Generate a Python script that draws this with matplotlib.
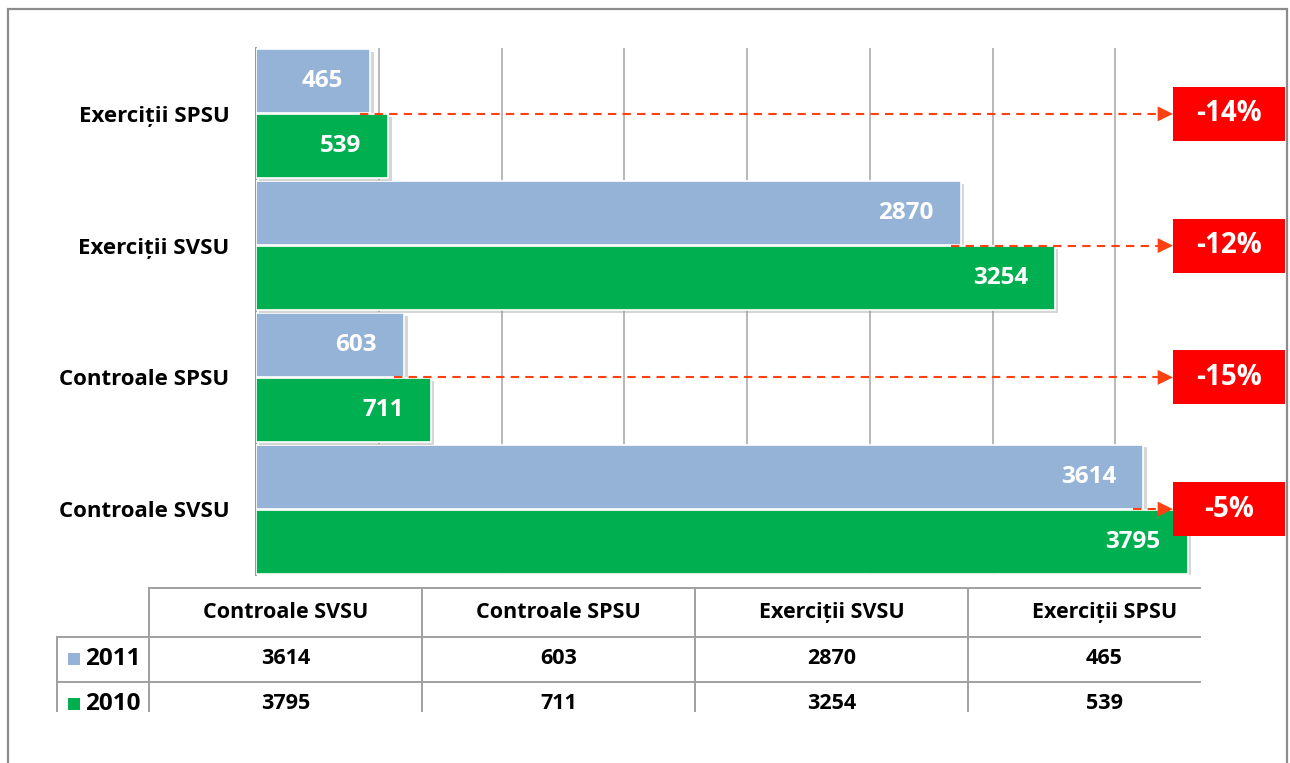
"""Horizontal grouped bars 2011 vs 2010 with data table and change boxes."""

import matplotlib
matplotlib.use("Agg")
import matplotlib.pyplot as plt
import matplotlib.patheffects as pe
from matplotlib.patches import Rectangle

# ── Data ────────────────────────────────────────────────────────────────
categories = ["Controale SVSU", "Controale SPSU", "Exerciții SVSU", "Exerciții SPSU"]
years = ["2011", "2010"]
values_2011 = [3614, 603, 2870, 465]
values_2010 = [3795, 711, 3254, 539]

# ── Style ───────────────────────────────────────────────────────────────
C_2011 = "#95B3D7"
C_2010 = "#00B050"
C_BOX = "#FF0000"
C_ARROW = "#FF4010"
C_GRID = "#ABABAB"
FONT = ["Open Sans", "DejaVu Sans"]
FS = 15.5

W, H = 1290, 763
plt.rcParams["font.family"] = FONT

fig = plt.figure(figsize=(W / 100, H / 100), dpi=100)


def px_rect(x0, y0, x1, y1):
    """Pixel box (top-left origin) -> figure fraction [l, b, w, h]."""
    return [x0 / W, 1 - y1 / H, (x1 - x0) / W, (y1 - y0) / H]


# outer frame (open at the bottom)
frame = fig.add_axes([0, 0, 1, 1])
frame.set_xlim(0, W)
frame.set_ylim(H, 0)
frame.axis("off")
frame.plot([8, 8, 1287, 1287], [H + 5, 9, 9, H + 5], color="#8C8C8C", lw=1.6,
           solid_joinstyle="miter")

# ── Bar chart ───────────────────────────────────────────────────────────
ax = fig.add_axes(px_rect(256, 48, 1238, 575))
ax.set_xlim(0, 4000)
ax.set_ylim(-0.5, len(categories) - 0.5)

bar_h = 0.485
off = 0.247
shadow = [pe.SimplePatchShadow(offset=(2.5, -2), shadow_rgbFace="0.55", alpha=0.35),
          pe.Normal()]
ys = list(range(len(categories)))
b11 = ax.barh([y + off for y in ys], values_2011, height=bar_h, color=C_2011,
              edgecolor="white", linewidth=1.2, zorder=3)
b10 = ax.barh([y - off for y in ys], values_2010, height=bar_h, color=C_2010,
              edgecolor="white", linewidth=1.2, zorder=3)
for b in list(b11) + list(b10):
    b.set_path_effects(shadow)

for bars, vals in ((b11, values_2011), (b10, values_2010)):
    for b, v in zip(bars, vals):
        ax.annotate(f"{v}", xy=(v, b.get_y() + b.get_height() / 2),
                    xytext=(-27, 0), textcoords="offset pixels",
                    ha="right", va="center", color="white",
                    fontsize=17.5, fontweight="bold", zorder=5)

ax.set_yticks(ys)
ax.set_yticklabels(categories, fontsize=16, fontweight="bold")
ax.tick_params(axis="y", length=0, pad=19)
ax.set_xticks(range(500, 4000, 500))
ax.tick_params(axis="x", length=0, labelbottom=False)
ax.grid(axis="x", color=C_GRID, lw=1.2)
ax.set_axisbelow(True)
for s in ("top", "right", "bottom"):
    ax.spines[s].set_visible(False)
ax.spines["left"].set_color("#8C8C8C")
ax.spines["left"].set_linewidth(1.3)

# change arrows and red boxes
arrow_end = 3735
box_w = 456
box_h = 0.41
for y, v11, v10 in zip(ys, values_2011, values_2010):
    pct = round((v11 - v10) / v10 * 100)
    ax.plot([v11 - 40, arrow_end - 30], [y, y], color=C_ARROW, lw=1.5,
            linestyle=(0, (4, 3)), zorder=4)
    ax.annotate("", xy=(arrow_end, y), xytext=(arrow_end - 80, y),
                arrowprops=dict(arrowstyle="-|>,head_length=0.55,head_width=0.27",
                                mutation_scale=20, color=C_ARROW, lw=0,
                                shrinkA=0, shrinkB=0), zorder=4)
    ax.add_patch(Rectangle((arrow_end, y - box_h / 2), box_w, box_h,
                           facecolor=C_BOX, edgecolor="none", clip_on=False, zorder=6))
    ax.text(arrow_end + box_w / 2, y, f"{pct}%", ha="center", va="center",
            color="white", fontsize=20, fontweight="bold", clip_on=False, zorder=7)

# ── Data table ──────────────────────────────────────────────────────────
tab = fig.add_axes(px_rect(0, 580, W, 712))
tab.set_xlim(0, W)
tab.set_ylim(712, 580)
tab.axis("off")

col_x0, col_w = 149, 273
row_y = [588, 637, 682]
lab_x0 = 57
line_kw = dict(color="#A0A0A0", lw=1.4)
tab.plot([col_x0, 1200], [row_y[0]] * 2, **line_kw)
for r in (1, 2):
    tab.plot([lab_x0, 1200], [row_y[r]] * 2, **line_kw)
for c in range(len(categories)):
    x = col_x0 + c * col_w
    tab.plot([x, x], [row_y[0], 712], **line_kw)
tab.plot([lab_x0, lab_x0], [row_y[1], 712], **line_kw)

for c, name in enumerate(categories):
    xc = col_x0 + (c + 0.5) * col_w
    tab.text(xc, (row_y[0] + row_y[1]) / 2, name, ha="center", va="center",
             fontsize=FS, fontweight="bold", clip_on=True)
    for r, vals in enumerate((values_2011, values_2010)):
        tab.text(xc, row_y[r + 1] + 22, f"{vals[c]}",
                 ha="center", va="center", fontsize=FS, fontweight="bold", clip_on=True)

for r, (yr, col) in enumerate(zip(years, (C_2011, C_2010))):
    yc = row_y[r + 1] + 22
    tab.add_patch(Rectangle((68, yc - 6), 12, 12, facecolor=col, edgecolor="none"))
    tab.text(85, yc, yr, ha="left", va="center", fontsize=17.5,
             fontweight="bold", clip_on=True)

fig.savefig("out.png", dpi=100)
